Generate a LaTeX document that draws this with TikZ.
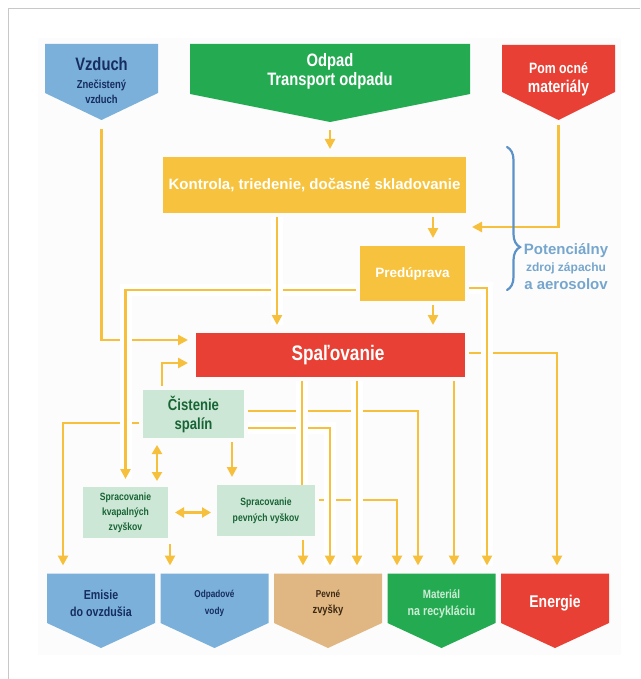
\documentclass[tikz,border=0pt]{standalone}
\usepackage{fontspec}
\setmainfont{Liberation Sans}
\newfontfamily\cn{Liberation Sans}[FakeStretch=0.82]
\usetikzlibrary{arrows.meta,calc,decorations.pathreplacing}
\pgfdeclarelayer{background}
\pgfsetlayers{background,main}

\definecolor{flowc}{RGB}{246,192,60}
\definecolor{yelbox}{RGB}{247,195,62}
\definecolor{redbox}{RGB}{232,64,52}
\definecolor{greenbox}{RGB}{36,171,82}
\definecolor{bluebox}{RGB}{122,176,218}
\definecolor{tanbox}{RGB}{224,183,130}
\definecolor{mintbox}{RGB}{205,231,214}
\definecolor{dkgreen}{RGB}{24,100,52}
\definecolor{navy}{RGB}{22,45,95}
\definecolor{brownt}{RGB}{60,40,20}
\definecolor{bracec}{RGB}{92,146,200}
\definecolor{potc}{RGB}{118,166,206}
\definecolor{framec}{RGB}{200,200,200}
\definecolor{paletxt}{RGB}{205,236,214}

\newcommand{\fsz}[2]{\fontsize{#1}{#2}\selectfont}
% pentagon filled behind a node: side edges end #3 above the node's south,
% the point lies #4 below it
\newcommand{\pentafill}[4]{%
  \fill[#2] (#1.north west) -- (#1.north east) -- ([yshift=#3]#1.south east)
    -- ([yshift=-#4]#1.south) -- ([yshift=#3]#1.south west) -- cycle;}

\tikzset{
  base/.style={inner sep=0pt, outer sep=0pt, align=center},
  flow/.style={draw=flowc, line width=2.7pt, -{Triangle[length=10pt,width=10pt]},
    shorten >=8pt, shorten <=4pt},
  plain/.style={draw=flowc, line width=2.7pt, shorten <=4pt},
  twoway/.style={draw=flowc, line width=2.7pt,
    {Triangle[length=9pt,width=10pt]}-{Triangle[length=9pt,width=10pt]},
    shorten >=6pt, shorten <=7pt},
  over/.style={preaction={draw=white, line width=12pt, arrows=-}}
}

\begin{document}
\begin{tikzpicture}[x=1pt,y=-1pt]
\useasboundingbox (0,0) rectangle (640,679);

% ---- inputs
\node[base, font=\cn\bfseries\fsz{11.5}{15}, minimum width=113pt, minimum height=74pt,
  text=navy] (vz) at (101.5,81)
  {{\fsz{18}{21}Vzduch}\\[3pt]Znečistený\\vzduch};
\node[base, font=\cn\bfseries\fsz{18}{19}, minimum width=280pt, minimum height=54pt,
  text=white] (od) at (330,71) {Odpad\\Transport odpadu};
\node[base, font=\cn\bfseries\fsz{17}{19}, minimum width=113pt, minimum height=68pt,
  text=white] (pm) at (558.5,79) {{\fsz{15}{18}Pom ocné}\\materiály};

% ---- process boxes
\node[base, font=\bfseries\fsz{15}{18}, fill=yelbox, text=white,
  minimum width=303pt, minimum height=56pt] (ko) at (314.5,185)
  {Kontrola, triedenie, dočasné skladovanie};
\node[base, font=\bfseries\fsz{13.5}{16}, fill=yelbox, text=white,
  minimum width=105pt, minimum height=55pt] (pr) at (412.5,273.5) {Predúprava};
\node[base, font=\cn\bfseries\fsz{21}{24}, fill=redbox, text=white,
  minimum width=269pt, minimum height=44pt] (sp) at (330.5,355)
  {\hspace*{15pt}Spaľovanie};
\node[base, font=\cn\bfseries\fsz{16}{19}, fill=mintbox, text=dkgreen,
  minimum width=101pt, minimum height=48pt] (ci) at (193.5,414) {Čistenie\\spalín};
\node[base, font=\cn\bfseries\fsz{10.5}{15}, fill=mintbox, text=dkgreen,
  minimum width=85pt, minimum height=51pt] (kv) at (125.5,512.5)
  {Spracovanie\\kvapalných\\zvyškov};
\node[base, font=\cn\bfseries\fsz{10.5}{16}, fill=mintbox, text=dkgreen,
  minimum width=98pt, minimum height=51pt] (pe) at (266,510.5)
  {Spracovanie\\pevných vyškov};

% ---- outputs
\node[base, font=\cn\bfseries\fsz{13}{17}, minimum width=108pt, minimum height=60pt,
  text=navy] (em) at (101,603.5) {Emisie\\do ovzdušia};
\node[base, font=\cn\bfseries\fsz{10}{17}, minimum width=108pt, minimum height=60pt,
  text=navy] (ov) at (214.5,603.5) {Odpadové\\vody};
\node[base, font=\cn\bfseries\fsz{11.5}{16}, minimum width=108pt, minimum height=60pt,
  text=brownt] (pz) at (328,603.5) {{\fsz{10}{16}Pevné}\\zvyšky};
\node[base, font=\cn\bfseries\fsz{13}{17}, minimum width=108pt, minimum height=60pt,
  text=paletxt] (mr) at (441.5,603.5) {{\fsz{12}{17}Materiál}\\na recykláciu};
\node[base, font=\cn\bfseries\fsz{17}{20}, minimum width=108pt, minimum height=60pt,
  text=white] (en) at (555,603.5) {Energie};

\begin{pgfonlayer}{background}
  \fill[white] (0,0) rectangle (640,679);
  \fill[black!1] (38,38) rectangle (621,655);
  \draw[framec, line width=1pt] (8,679) -- (8,9) -- (640,9);
  \pentafill{vz}{bluebox}{25pt}{2pt}
  \pentafill{od}{greenbox}{4pt}{24pt}
  \pentafill{pm}{redbox}{21pt}{7pt}
  \pentafill{em}{bluebox}{10.5pt}{14.5pt}
  \pentafill{ov}{bluebox}{10.5pt}{14.5pt}
  \pentafill{pz}{tanbox}{10.5pt}{14.5pt}
  \pentafill{mr}{greenbox}{10.5pt}{14.5pt}
  \pentafill{en}{redbox}{10.5pt}{14.5pt}
\end{pgfonlayer}

% ---- helper points on box edges
\path ([xshift=20.5pt]pr.north) coordinate (prin)
      ([xshift=-37.5pt]ko.south) coordinate (kos)
      ([xshift=-36.5pt]ci.south) coordinate (cikv)
      ([xshift=38.5pt]ci.south) coordinate (cipe)
      ([xshift=2pt,yshift=-2pt]kv.south east) coordinate (kvout)
      ([xshift=-28.5pt]sp.south) coordinate (sppe)
      ([xshift=26.5pt]sp.south) coordinate (sppz)
      ([xshift=123.5pt]sp.south) coordinate (spmr)
      ([xshift=37pt]pe.south) coordinate (pepz);
\coordinate (pmend) at (472,227);

% ---- upper flows
\draw[flow] ([yshift=-28pt]od.south) -- (od.south |- ko.north);
\draw[flow, shorten >=0pt] ([yshift=-8pt]pm.south) |- (pmend);
\draw[flow] (ko.south -| prin) -- (prin);
\draw[flow] (pr.south -| prin) -- (sp.north -| prin);

% ---- left side
\draw[flow] ([yshift=-7pt]vz.south) |- ([yshift=15pt]sp.west);
\draw[flow] ([yshift=-9pt]ci.west) -| ([xshift=-38pt]em.north);
\draw[flow, over] ([yshift=-16.5pt]pr.west) -| (kv.north);
\draw[flow, over] (kos) -- (kos |- sp.north);
\draw[flow] ([xshift=-31.5pt]ci.north) |- ([yshift=-8pt]sp.west);
\draw[twoway] (cikv) -- (cikv |- kv.north);
\draw[flow] (cipe) -- (cipe |- pe.north);
\draw[twoway] (kv.east) -- (kv.east -| pe.west);
\draw[flow] (kvout) -- (kvout |- ov.north);

% ---- right side
\draw[flow] ([yshift=2pt]sp.east) -| ([xshift=2pt]en.north);
\draw[flow] ([yshift=3pt]ci.east) -| ([xshift=-23.5pt]mr.north);
\draw[flow] ([yshift=10.5pt]pe.east) -| ([xshift=-44.5pt]mr.north);
\draw[flow, over] ([yshift=-14pt]ci.east) -| ([xshift=2pt]pz.north);
\draw[plain, over] (sppe) -- (sppe |- pe.north);
\draw[flow, over] (sppz) -- (sppz |- pz.north);
\draw[flow] (spmr) -- (spmr |- mr.north);
\draw[flow, over] ([yshift=-14.5pt]pr.east) -| ([xshift=45.5pt]mr.north);
\draw[flow] (pepz) -- (pepz |- pz.north);

% ---- odour / aerosol note
\draw[bracec, line width=2.2pt, line cap=round, decorate,
  decoration={brace, amplitude=13pt, aspect=0.7}] (507,147) -- (507,290);
\node[inner sep=0pt, align=center, font=\bfseries\fsz{15}{17}, text=potc] (pot)
  at (566,267) {Potenciálny\\{\fsz{12}{17}zdroj zápachu}\\[1pt]a aerosolov};
\end{tikzpicture}
\end{document}
